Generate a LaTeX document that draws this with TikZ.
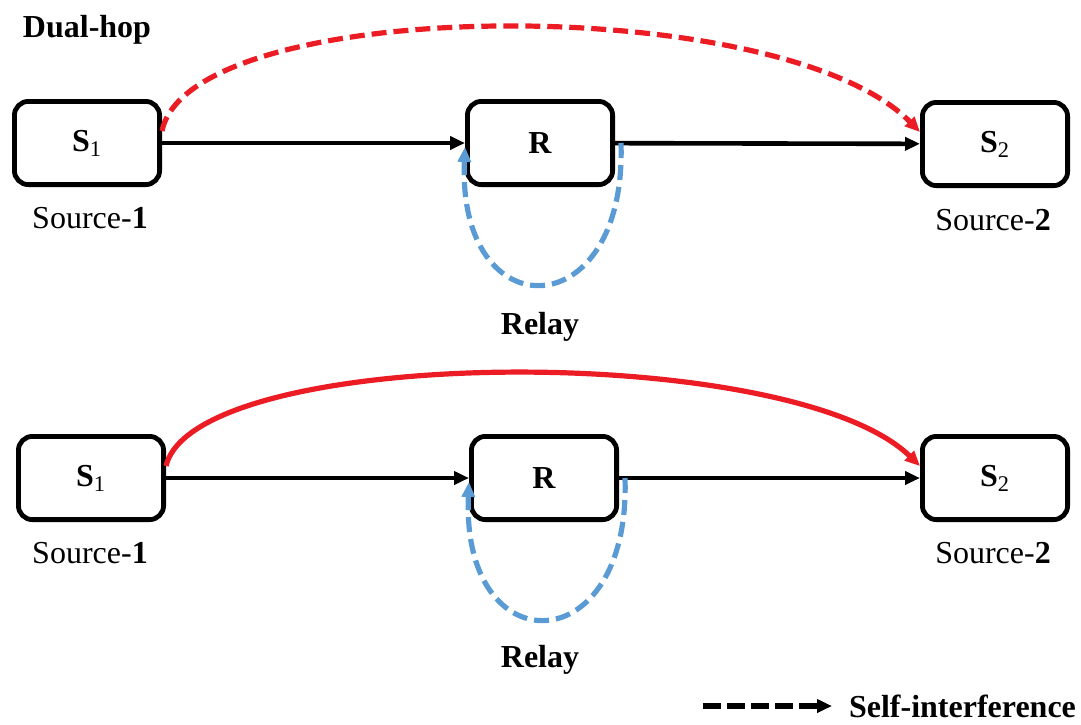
\documentclass[tikz,border=0pt]{standalone}
\usepackage{fontspec}
\setmainfont{Liberation Serif}
\usetikzlibrary{arrows.meta}

\definecolor{sired}{RGB}{236,28,36}
\definecolor{siblue}{RGB}{91,155,213}

\tikzset{
  box/.style = {draw, line width=2.4pt, rounded corners=7pt,
                minimum width=72.6pt, minimum height=41.6pt,
                font=\fontsize{16}{18}\selectfont\bfseries},
  caption/.style = {font=\fontsize{16}{19}\selectfont},
  bcaption/.style = {font=\fontsize{16}{19}\selectfont\bfseries},
  link/.style = {-{Triangle[length=7.5pt,width=6.5pt]}, line width=2.3pt},
  hop/.style = {-{Triangle[length=7.5pt,width=6.5pt]}, line width=2.6pt, sired},
  selfint/.style = {-{Triangle[length=7.5pt,width=6.5pt]}, line width=2.6pt,
                    dash pattern=on 7.5pt off 3.5pt, siblue},
}

\begin{document}
\begin{tikzpicture}[x=0.5pt, y=-0.5pt]
    \useasboundingbox (0,0) rectangle (1081,724);

    \node [bcaption] (title) at (87,30) {Dual-hop};

    \node [box] (s1a) at (87,143) {S\textsubscript{\mdseries 1}};
    \node [box] (ra)  at (540,143) {R};
    \node [box] (s2a) at (995,144) {S\textsubscript{\mdseries 2}};

    \node [caption] (src1a) at (90,218) {Source-\textbf{1}};
    \node [caption] (src2a) at (993,220) {Source-\textbf{2}};
    \node [bcaption] (relaya) at (540,327) {Relay};

    \draw [link] (s1a) -- (ra);
    \draw [link] (ra) -- (s2a);
    \draw [hop, dash pattern=on 7.5pt off 3.5pt] ([yshift=6pt]s1a.east)
        .. controls (190,-5) and (780,-10) .. ([yshift=6pt]s2a.west);
    \draw [selfint] ([xshift=3pt]ra.east)
        .. controls +(6,185) and +(-8,185) .. ([yshift=-2pt]ra.west);

    \node [box] (s1b) at (91,478) {S\textsubscript{\mdseries 1}};
    \node [box] (rb)  at (544,478) {R};
    \node [box] (s2b) at (995,478) {S\textsubscript{\mdseries 2}};

    \node [caption] (src1b) at (90,553) {Source-\textbf{1}};
    \node [caption] (src2b) at (993,553) {Source-\textbf{2}};
    \node [bcaption] (relayb) at (540,660) {Relay};

    \draw [link] (s1b) -- (rb);
    \draw [link] (rb) -- (s2b);
    \draw [hop] ([yshift=6pt]s1b.east)
        .. controls (195,345) and (790,340) .. ([yshift=6pt]s2b.west);
    \draw [selfint] ([xshift=3pt]rb.east)
        .. controls +(6,185) and +(-8,185) .. ([yshift=-2pt]rb.west);

    \coordinate (legstart) at (703,706);
    \node [bcaption, anchor=west] (legtext) at (842,706) {Self-interference};
    \draw [link, line width=2.6pt, dash pattern=on 9pt off 3pt] (legstart) -- ([xshift=-5pt]legtext.west);
\end{tikzpicture}
\end{document}
